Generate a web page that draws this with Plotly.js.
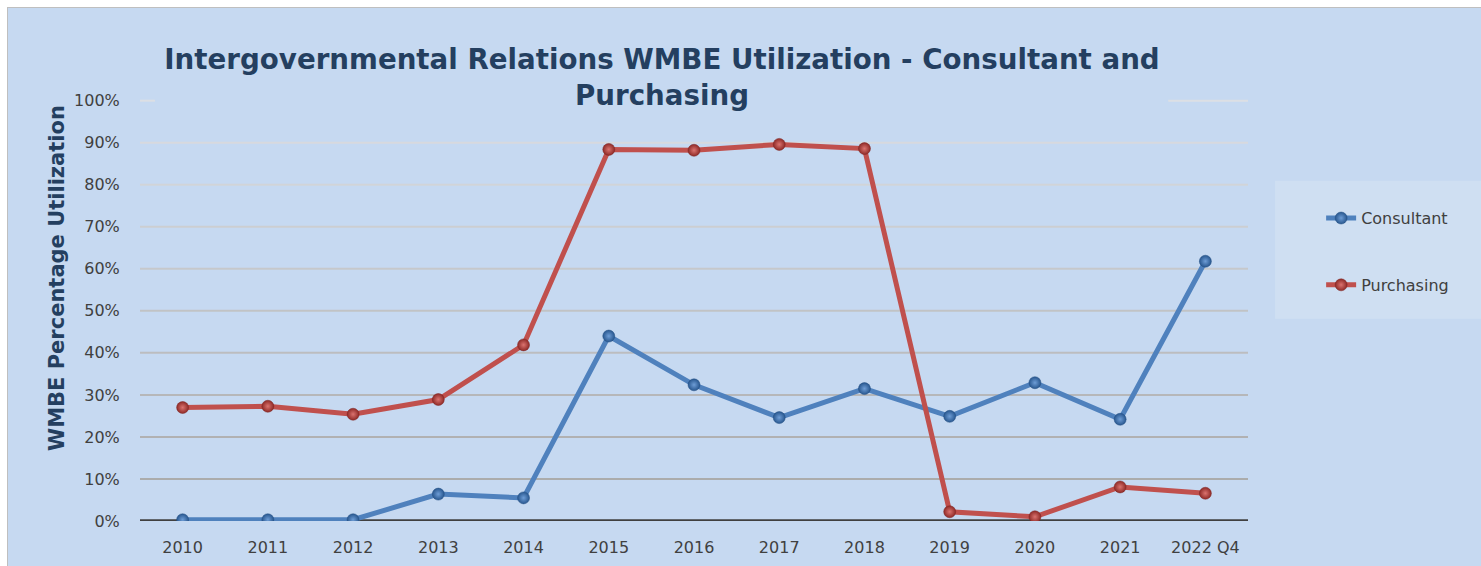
<!DOCTYPE html>
<html>
<head>
<meta charset="utf-8">
<script src="https://cdn.plot.ly/plotly-3.0.1.min.js"></script>
<style>
html,body{margin:0;padding:0;background:#ffffff;width:1481px;height:566px;overflow:hidden;}
#chart{position:absolute;left:7px;top:7px;width:1473px;height:558px;border-left:1px solid #bfbfbf;border-top:1px solid #bfbfbf;}
</style>
</head>
<body>
<div id="chart"></div>
<script>
const categories = ["2010","2011","2012","2013","2014","2015","2016","2017","2018","2019","2020","2021","2022 Q4"];
const consultant = [0.3,0.3,0.3,6.4,5.5,44.0,32.4,24.6,31.5,24.9,32.9,24.2,61.8];
const purchasing = [27.0,27.3,25.4,28.9,41.9,88.4,88.2,89.6,88.6,2.2,1.0,8.1,6.6];
const yTicks = [0,10,20,30,40,50,60,70,80,90,100];
const yTickLabels = yTicks.map(v => v + "%");

const bg = "#c6d9f1";
const traces = [
  {x: categories, y: consultant, name: "Consultant", legendgroup: "c", type: "scatter", mode: "lines+markers",
   line: {color: "#4f81bd", width: 5},
   marker: {color: "#28578f", size: 12, gradient: {type: "radial", color: "#6e9dd6"}, line: {color: "#234e82", width: 0.5}}},
  {x: categories, y: purchasing, name: "Purchasing", legendgroup: "p", type: "scatter", mode: "lines+markers",
   line: {color: "#c0504d", width: 5},
   marker: {color: "#8f2a27", size: 12, gradient: {type: "radial", color: "#db736f"}, line: {color: "#7e2422", width: 0.5}}}
];

// gridlines: gray at the bottom fading to a pale tone at the top
function mix(a, b, t) {
  const pa = [1,3,5].map(i => parseInt(a.substr(i,2),16));
  const pb = [1,3,5].map(i => parseInt(b.substr(i,2),16));
  return "rgb(" + pa.map((v,i) => Math.round(v + (pb[i]-v)*t)).join(",") + ")";
}
const gridShapes = [];
yTicks.filter(v => v > 0).forEach(v => {
  const col = mix("#a6a6a6", "#dcdfe4", v / 100);
  const segs = v === 100 ? [[0, 0.0135], [0.928, 1]] : [[0, 1]];
  segs.forEach(s => gridShapes.push({type: "line", xref: "paper", yref: "y", x0: s[0], x1: s[1], y0: v, y1: v,
    line: {color: col, width: 2}, layer: "below"}));
});

const layout = {
  width: 1473, height: 558,
  paper_bgcolor: bg, plot_bgcolor: bg,
  margin: {l: 132, r: 233, t: 91, b: 45},
  font: {family: "DejaVu Sans, Verdana, sans-serif", color: "#404040"},
  title: {text: "Intergovernmental Relations WMBE Utilization - Consultant and<br>Purchasing",
          font: {family: "DejaVu Sans, Verdana, sans-serif", size: 27.7, color: "#243f60", weight: "bold"},
          x: 0.444, xanchor: "center", y: 0.89, yanchor: "top"},
  xaxis: {type: "category", range: [-0.5, 12.5], showgrid: false, zeroline: false,
          showline: false, ticks: "outside", ticklen: 12, tickcolor: "rgba(0,0,0,0)",
          tickfont: {size: 16, color: "#404040"}, fixedrange: true},
  yaxis: {range: [0, 100.4], tickvals: yTicks, ticktext: yTickLabels, showgrid: false,
          zeroline: false, showline: false,
          tickfont: {size: 16, color: "#404040"}, ticks: "outside", ticklen: 16, tickcolor: "rgba(0,0,0,0)"},
  legend: {x: 1.066, xanchor: "left", y: 0.758, yanchor: "top", bgcolor: "rgba(0,0,0,0)",
           borderwidth: 0, font: {size: 16, color: "#404040"}, tracegroupgap: 43},
  annotations: [
    {text: "WMBE Percentage Utilization", xref: "paper", yref: "paper",
     x: (57 - 140) / 1108, y: (521 - 278) / 422, xanchor: "center", yanchor: "middle",
     textangle: -90, showarrow: false,
     font: {family: "DejaVu Sans, Verdana, sans-serif", size: 21, color: "#243f60", weight: "bold"}}
  ],
  shapes: gridShapes.concat([
    {type: "rect", xref: "paper", yref: "paper", x0: 1.0244, x1: 1.25, y0: 0.479, y1: 0.806,
     fillcolor: "#cfdff2", line: {width: 0}, layer: "below"},
    {type: "line", xref: "paper", yref: "y", x0: 0, x1: 1, y0: 0, y1: 0,
     line: {color: "#404040", width: 3.5}, layer: "below"}
  ]),
  showlegend: true
};

Plotly.newPlot("chart", traces, layout, {displayModeBar: false, staticPlot: true});
</script>
</body>
</html>
